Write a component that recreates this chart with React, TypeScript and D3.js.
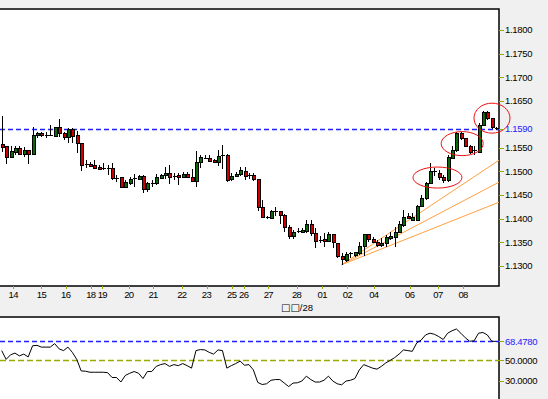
import * as d3 from 'd3';

// OHLC, 4h candles
const candles: [number, number, number, number][] = [
  [1.1558, 1.1618, 1.1541, 1.1552], [1.1553, 1.1553, 1.1515, 1.1531], [1.1531, 1.1553, 1.1528, 1.1543],
  [1.1542, 1.1553, 1.1535, 1.1549], [1.1549, 1.1553, 1.1535, 1.1538], [1.1538, 1.1551, 1.1531, 1.1546],
  [1.1546, 1.1546, 1.1515, 1.1538], [1.1538, 1.1595, 1.1538, 1.1577], [1.1577, 1.1584, 1.1570, 1.1581],
  [1.1581, 1.1584, 1.1574, 1.1577], [1.1577, 1.1584, 1.1570, 1.1576], [1.1577, 1.1599, 1.1576, 1.1577],
  [1.1576, 1.1594, 1.1576, 1.1594], [1.1594, 1.1611, 1.1574, 1.1581], [1.1581, 1.1584, 1.1567, 1.1574],
  [1.1574, 1.1592, 1.1561, 1.1589], [1.1589, 1.1592, 1.1561, 1.1576], [1.1577, 1.1586, 1.1540, 1.1560],
  [1.1560, 1.1560, 1.1501, 1.1513], [1.1515, 1.1524, 1.1507, 1.1514], [1.1515, 1.1521, 1.1510, 1.1512],
  [1.1513, 1.1524, 1.1507, 1.1508], [1.1509, 1.1514, 1.1503, 1.1506], [1.1507, 1.1517, 1.1503, 1.1506],
  [1.1506, 1.1514, 1.1492, 1.1507], [1.1507, 1.1517, 1.1482, 1.1485], [1.1485, 1.1492, 1.1478, 1.1486],
  [1.1488, 1.1489, 1.1464, 1.1466], [1.1466, 1.1482, 1.1464, 1.1478], [1.1476, 1.1489, 1.1471, 1.1483],
  [1.1485, 1.1494, 1.1466, 1.1484], [1.1484, 1.1492, 1.1482, 1.1490], [1.1490, 1.1492, 1.1454, 1.1462],
  [1.1462, 1.1478, 1.1457, 1.1475], [1.1475, 1.1482, 1.1466, 1.1476], [1.1476, 1.1494, 1.1471, 1.1488],
  [1.1486, 1.1494, 1.1484, 1.1492], [1.1492, 1.1510, 1.1484, 1.1496], [1.1496, 1.1514, 1.1473, 1.1489],
  [1.1491, 1.1496, 1.1482, 1.1490], [1.1492, 1.1496, 1.1471, 1.1489], [1.1488, 1.1499, 1.1485, 1.1494],
  [1.1494, 1.1499, 1.1485, 1.1489], [1.1489, 1.1505, 1.1478, 1.1480], [1.1480, 1.1543, 1.1466, 1.1519],
  [1.1519, 1.1535, 1.1507, 1.1530], [1.1529, 1.1535, 1.1526, 1.1529], [1.1529, 1.1535, 1.1519, 1.1523],
  [1.1524, 1.1526, 1.1520, 1.1521], [1.1521, 1.1546, 1.1512, 1.1533], [1.1533, 1.1556, 1.1505, 1.1534],
  [1.1535, 1.1536, 1.1477, 1.1482], [1.1483, 1.1496, 1.1480, 1.1490], [1.1490, 1.1498, 1.1488, 1.1495],
  [1.1494, 1.1509, 1.1491, 1.1503], [1.1501, 1.1510, 1.1482, 1.1490], [1.1492, 1.1497, 1.1483, 1.1491],
  [1.1492, 1.1496, 1.1480, 1.1483], [1.1483, 1.1484, 1.1415, 1.1425], [1.1425, 1.1439, 1.1401, 1.1403],
  [1.1403, 1.1406, 1.1399, 1.1402], [1.1401, 1.1418, 1.1399, 1.1416], [1.1416, 1.1424, 1.1406, 1.1415],
  [1.1416, 1.1417, 1.1389, 1.1408], [1.1408, 1.1409, 1.1372, 1.1383], [1.1383, 1.1386, 1.1356, 1.1363],
  [1.1363, 1.1376, 1.1356, 1.1372], [1.1372, 1.1379, 1.1369, 1.1373], [1.1371, 1.1379, 1.1369, 1.1376],
  [1.1374, 1.1397, 1.1370, 1.1389], [1.1389, 1.1397, 1.1363, 1.1369], [1.1369, 1.1379, 1.1337, 1.1353],
  [1.1354, 1.1363, 1.1348, 1.1355], [1.1357, 1.1369, 1.1339, 1.1352], [1.1352, 1.1372, 1.1351, 1.1367],
  [1.1367, 1.1368, 1.1337, 1.1351], [1.1348, 1.1349, 1.1316, 1.1320], [1.1320, 1.1326, 1.1302, 1.1314],
  [1.1312, 1.1330, 1.1308, 1.1325], [1.1325, 1.1330, 1.1316, 1.1326], [1.1323, 1.1330, 1.1319, 1.1329],
  [1.1328, 1.1351, 1.1323, 1.1342], [1.1342, 1.1368, 1.1321, 1.1367], [1.1367, 1.1368, 1.1351, 1.1356],
  [1.1356, 1.1361, 1.1348, 1.1351], [1.1351, 1.1355, 1.1340, 1.1344], [1.1344, 1.1358, 1.1340, 1.1349],
  [1.1349, 1.1365, 1.1340, 1.1360], [1.1359, 1.1372, 1.1355, 1.1364], [1.1361, 1.1383, 1.1340, 1.1371],
  [1.1371, 1.1394, 1.1369, 1.1389], [1.1386, 1.1418, 1.1383, 1.1404], [1.1406, 1.1411, 1.1399, 1.1401],
  [1.1397, 1.1411, 1.1396, 1.1404], [1.1397, 1.1429, 1.1396, 1.1427], [1.1427, 1.1450, 1.1425, 1.1443],
  [1.1443, 1.1477, 1.1439, 1.1476], [1.1476, 1.1517, 1.1475, 1.1501], [1.1499, 1.1507, 1.1490, 1.1500],
  [1.1496, 1.1503, 1.1482, 1.1489], [1.1489, 1.1492, 1.1475, 1.1482], [1.1482, 1.1535, 1.1478, 1.1531],
  [1.1528, 1.1553, 1.1526, 1.1546], [1.1546, 1.1584, 1.1542, 1.1581], [1.1581, 1.1584, 1.1567, 1.1570],
  [1.1570, 1.1571, 1.1553, 1.1554], [1.1554, 1.1556, 1.1538, 1.1542], [1.1545, 1.1553, 1.1535, 1.1546],
  [1.1542, 1.1602, 1.1541, 1.1599], [1.1599, 1.1628, 1.1596, 1.1627], [1.1627, 1.1628, 1.1609, 1.1613],
  [1.1613, 1.1614, 1.1589, 1.1594], [1.1592, 1.1594, 1.1588, 1.1591],
];

const rsi = [
  59.5, 51.0, 55.4, 57.1, 54.4, 56.1, 53.4, 64.2, 64.6, 62.9, 62.9, 62.9, 66.3, 61.2, 59.5, 62.9,
  57.8, 51.0, 39.8, 39.5, 38.5, 38.5, 38.5, 38.5, 38.1, 33.4, 33.4, 29.0, 35.4, 37.5, 39.2, 37.5,
  32.4, 39.2, 39.2, 44.2, 45.9, 46.9, 44.2, 45.9, 44.9, 46.9, 44.9, 42.5, 59.5, 60.5, 60.2, 57.8,
  56.1, 60.2, 59.5, 42.5, 44.9, 46.9, 49.3, 45.3, 45.9, 40.8, 28.6, 26.6, 27.3, 30.7, 31.4, 31.4,
  28.0, 24.6, 28.0, 28.3, 30.0, 34.7, 31.4, 29.0, 29.0, 30.7, 34.7, 30.0, 27.3, 26.3, 30.0, 30.7,
  32.4, 40.8, 45.9, 44.2, 42.5, 41.5, 44.2, 47.6, 50.0, 52.7, 56.1, 60.2, 59.5, 58.8, 66.9, 69.7,
  74.7, 76.4, 75.4, 73.1, 70.3, 76.4, 78.8, 80.5, 76.4, 72.0, 68.6, 69.0, 76.4, 77.1, 74.7, 68.6, 68.5,
];

const dayLabels = ['14', '15', '16', '18', '19', '20', '21', '22', '23', '25', '26', '27', '28', '01', '02', '04', '06', '07', '08'];
const dayAt = [2.6, 9.0, 14.5, 20.2, 22.8, 28.8, 34.3, 40.8, 46.4, 52.1, 54.8, 60.4, 66.8, 72.6, 78.3, 84.3, 92.4, 98.8, 104.5];
const periodBoxes = '□□';
const periodLabel = '/28';

const priceTicks = [1.18, 1.175, 1.17, 1.165, 1.155, 1.15, 1.145, 1.14, 1.135, 1.13];
const lastPrice = 1.159;
const rsiLast = 68.478;
const rsiMid = 50;
const rsiTicks = [30];

// fan from the low, ellipses around the three flags
const fanFrom = { i: 77, p: 1.1302 };
const fanTo = [{ i: 113, p: 1.1526 }, { i: 113, p: 1.1479 }, { i: 113, p: 1.1436 }];
const ellipses = [
  { i: 98.7, p: 1.1487, ri: 5.55, rp: 0.00223 },
  { i: 104.3, p: 1.1559, ri: 4.76, rp: 0.00255 },
  { i: 111.05, p: 1.1613, ri: 4.08, rp: 0.00318 },
];

const W = 548;
const H = 399;
const panelRight = 499;
const mainTop = 9;
const mainBottom = 286;
const subTop = 317;
const subBottom = 398;
const tickColor = '#99aa00';
const blue = '#2020ff';
const font = '"Liberation Sans", Arial, sans-serif';
const fs = 9.5;

const px = (v: number) => Math.round(v) + 0.5;

export default function App() {
  const x = d3.scaleLinear().domain([0, candles.length - 1]).range([1.7, 1.7 + 4.415 * (candles.length - 1)]);
  const y = d3.scaleLinear().domain([1.13, 1.18]).range([265.7, 30]);
  const yr = d3.scaleLinear().domain([30, 50]).range([381, 360.4]);
  const f4 = d3.format('.4f');

  const rsiLine = d3.line<number>()
    .x((_, i) => x(i))
    .y(d => yr(d))(rsi) ?? '';

  return (
    <div style={{ position: 'fixed', left: 0, top: 0 }}>
      <svg width={W} height={H} style={{ display: 'block', background: '#f0f0f0', fontFamily: font }}>
        <defs>
          <clipPath id="main-clip">
            <rect x={0} y={mainTop} width={panelRight} height={mainBottom - mainTop} />
          </clipPath>
        </defs>

        {/* main panel */}
        <rect x={-2} y={mainTop} width={panelRight + 2} height={mainBottom - mainTop} fill="#fff" stroke="#000" strokeWidth={1.5} />

        <line x1={0} x2={panelRight} y1={px(y(lastPrice))} y2={px(y(lastPrice))} stroke={blue} strokeDasharray="5,3" strokeWidth={1.3} />

        <g clipPath="url(#main-clip)">
          {fanTo.map((t, k) => (
            <line key={k} x1={x(fanFrom.i)} y1={y(fanFrom.p)} x2={x(t.i)} y2={y(t.p)} stroke="#ffa040" strokeWidth={1} />
          ))}
        </g>

        {candles.map(([o, h, l, c], i) => {
          const cx = Math.round(x(i)) + 0.5;
          const top = Math.round(y(Math.max(o, c))) + 0.5;
          const bot = Math.round(y(Math.min(o, c))) + 0.5;
          const up = c >= o;
          const bh = bot - top;
          return (
            <g key={i} shapeRendering="crispEdges">
              <line x1={cx} x2={cx} y1={Math.round(y(h))} y2={Math.round(y(l))} stroke="#000" strokeWidth={1} />
              {bh < 1.5 ? (
                <line x1={cx - 2} x2={cx + 2} y1={top} y2={top} stroke="#000" strokeWidth={1} />
              ) : (
                <rect x={cx - 1.5} y={top} width={3} height={bh} fill={up ? '#0a6a0a' : '#cc0000'} stroke="#000" strokeWidth={1} />
              )}
            </g>
          );
        })}

        {ellipses.map((e, k) => (
          <ellipse key={k} cx={x(e.i)} cy={y(e.p)}
            rx={x(e.i + e.ri) - x(e.i)} ry={y(e.p - e.rp) - y(e.p)}
            fill="none" stroke="#ee1111" strokeWidth={1} />
        ))}

        {/* price axis */}
        {priceTicks.map(t => (
          <g key={t}>
            <line x1={panelRight} x2={panelRight + 5} y1={px(y(t))} y2={px(y(t))} stroke={tickColor} shapeRendering="crispEdges" />
            <text x={panelRight + 6} y={y(t)} dy="0.36em" fontSize={fs} letterSpacing={-0.3} fill="#000">{f4(t)}</text>
          </g>
        ))}
        <line x1={panelRight} x2={panelRight + 5} y1={px(y(lastPrice))} y2={px(y(lastPrice))} stroke={tickColor} shapeRendering="crispEdges" />
        <text x={panelRight + 6} y={y(lastPrice)} dy="0.36em" fontSize={fs} letterSpacing={-0.3} fill={blue}>{f4(lastPrice)}</text>

        {/* time axis */}
        {dayLabels.map((d, k) => (
          <g key={k}>
            <line x1={px(x(dayAt[k]))} x2={px(x(dayAt[k]))} y1={mainBottom} y2={mainBottom + 3} stroke={tickColor} shapeRendering="crispEdges" />
            <text x={x(dayAt[k])} y={mainBottom + 12} textAnchor="middle" fontSize={fs} letterSpacing={-0.6} fill="#000">{d}</text>
          </g>
        ))}
        <text x={297} y={mainBottom + 25} textAnchor="middle" fontSize={fs} fill="#000">
          <tspan fontSize={10} fontFamily="DejaVu Sans">{periodBoxes}</tspan>{periodLabel}
        </text>

        {/* RSI panel */}
        <rect x={-2} y={subTop} width={panelRight + 2} height={subBottom - subTop + 4} fill="#fff" stroke="#000" strokeWidth={1.5} />
        <line x1={0} x2={panelRight} y1={px(yr(rsiLast))} y2={px(yr(rsiLast))} stroke={blue} strokeDasharray="5,3" strokeWidth={1.3} />
        <line x1={0} x2={panelRight} y1={px(yr(rsiMid))} y2={px(yr(rsiMid))} stroke={tickColor} strokeDasharray="6,3" strokeWidth={1.3} />
        <path d={rsiLine} fill="none" stroke="#000" strokeWidth={1} />

        {[rsiMid, ...rsiTicks].map(t => (
          <g key={t}>
            <line x1={panelRight} x2={panelRight + 5} y1={px(yr(t))} y2={px(yr(t))} stroke={tickColor} shapeRendering="crispEdges" />
            <text x={panelRight + 6} y={yr(t)} dy="0.36em" fontSize={fs} letterSpacing={-0.3} fill="#000">{f4(t)}</text>
          </g>
        ))}
        <line x1={panelRight} x2={panelRight + 5} y1={px(yr(rsiLast))} y2={px(yr(rsiLast))} stroke={tickColor} shapeRendering="crispEdges" />
        <text x={panelRight + 6} y={yr(rsiLast)} dy="0.36em" fontSize={fs} letterSpacing={-0.3} fill={blue}>{f4(rsiLast)}</text>
      </svg>
    </div>
  );
}
